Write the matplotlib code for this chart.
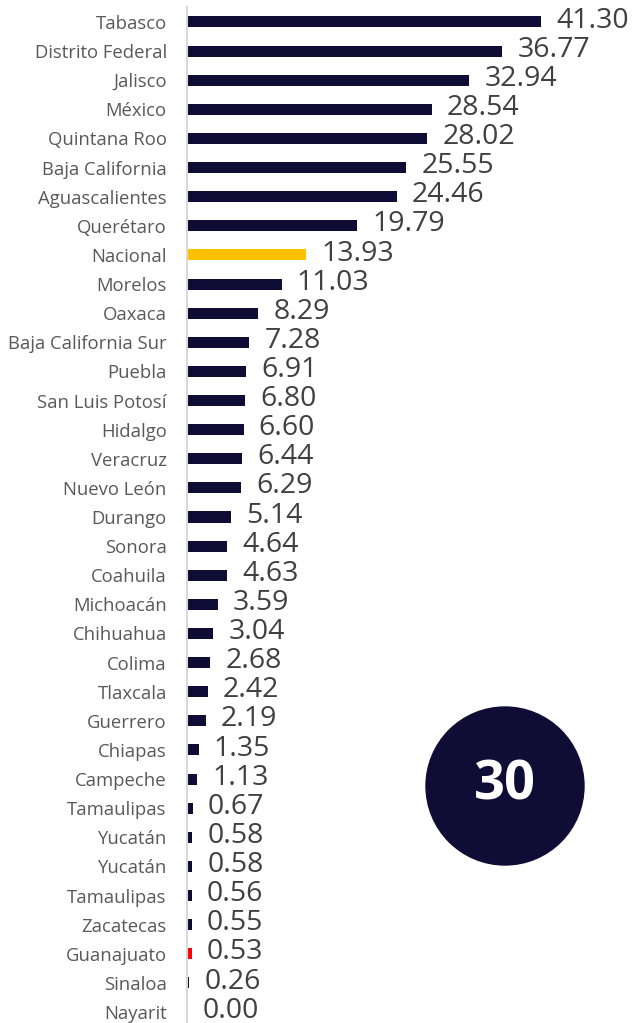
import matplotlib.pyplot as plt
from matplotlib.patches import Ellipse
import numpy as np

plt.rcParams['font.family'] = ['Open Sans', 'DejaVu Sans']

estados = ['Tabasco', 'Distrito Federal', 'Jalisco', 'México', 'Quintana Roo',
           'Baja California', 'Aguascalientes', 'Querétaro', 'Nacional', 'Morelos',
           'Oaxaca', 'Baja California Sur', 'Puebla', 'San Luis Potosí', 'Hidalgo',
           'Veracruz', 'Nuevo León', 'Durango', 'Sonora', 'Coahuila', 'Michoacán',
           'Chihuahua', 'Colima', 'Tlaxcala', 'Guerrero', 'Chiapas', 'Campeche',
           'Tamaulipas', 'Yucatán', 'Yucatán', 'Tamaulipas', 'Zacatecas',
           'Guanajuato', 'Sinaloa', 'Nayarit']
valores = [41.30, 36.77, 32.94, 28.54, 28.02, 25.55, 24.46, 19.79, 13.93, 11.03,
           8.29, 7.28, 6.91, 6.80, 6.60, 6.44, 6.29, 5.14, 4.64, 4.63, 3.59,
           3.04, 2.68, 2.42, 2.19, 1.35, 1.13, 0.67, 0.58, 0.58, 0.56, 0.55,
           0.53, 0.26, 0.00]
resaltados = {'Nacional': '#ffc000', 'Guanajuato': '#ff0000'}
numero = '30'

navy = '#0f0c35'
W, H = 632, 1023
fig = plt.figure(figsize=(W / 100, H / 100), dpi=100)

# axes placed in pixel terms: bars start at x=187, rows from y=22 to y=1012
top_px, bot_px = 7.4, 1026.6
ax = fig.add_axes([187 / W, (H - bot_px) / H, (W - 187) / W, (bot_px - top_px) / H])

y = np.arange(len(estados))
colores = [resaltados.get(e, navy) for e in estados]
ax.barh(y, valores, height=0.38, color=colores)

for yi, v in zip(y, valores):
    ax.annotate(f'{v:.2f}', xy=(v, yi), xytext=(11, 1), textcoords='offset points',
                va='center', ha='left', fontsize=20.5, color='#404040')

ax.set_xlim(0, 51.9)
ax.set_ylim(len(estados) - 0.5, -0.5)
ax.set_yticks(y)
ax.set_yticklabels(estados, fontsize=13.3, color='#595959')
ax.tick_params(axis='y', length=0, pad=14.5)
ax.set_xticks([])
for s in ['top', 'right', 'bottom']:
    ax.spines[s].set_visible(False)
ax.spines['left'].set_color('#d9d9d9')
ax.spines['left'].set_linewidth(1.5)

# circle badge
cx, cy, r = 505, 786, 79
fig.add_artist(Ellipse((cx / W, 1 - cy / H), 2 * r / W, 2 * r / H,
                       transform=fig.transFigure, color=navy, zorder=5))
fig.text(cx / W, 1 - cy / H, numero, ha='center', va='center', color='white',
         fontsize=39, fontweight='bold', zorder=6)

fig.savefig('out.png', dpi=100)
